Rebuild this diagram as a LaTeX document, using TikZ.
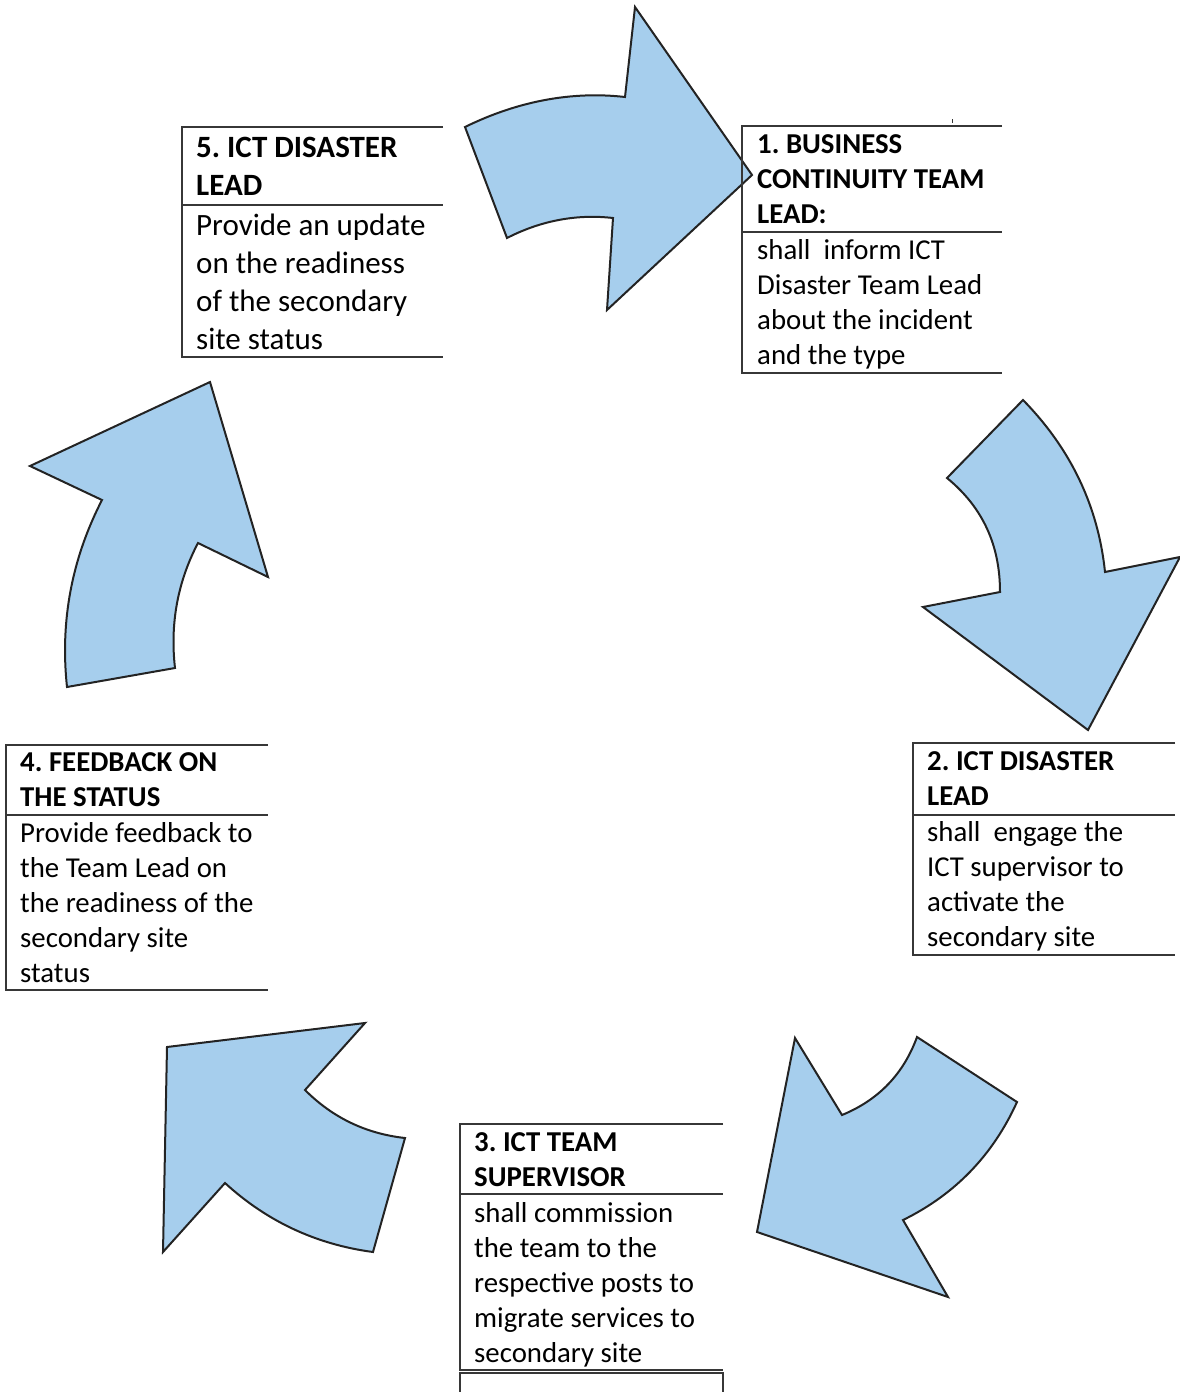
\documentclass[tikz,border=0pt]{standalone}
\usepackage{fontspec}
\setmainfont{Carlito}
\frenchspacing
\definecolor{arrowfill}{RGB}{166,206,237}
\definecolor{arrowline}{RGB}{35,35,35}
\definecolor{boxline}{RGB}{55,55,55}
\begin{document}
\begin{tikzpicture}[x=1pt,y=-1pt,
  bigarrow/.style={fill=arrowfill,draw=arrowline,line width=2pt,line join=miter},
  frame/.style={draw=boxline,line width=1.5pt},
  hdr/.style={anchor=north west,inner sep=0pt,align=left,font=\fontsize{28.8}{35}\selectfont\bfseries},
  bdy/.style={anchor=north west,inner sep=0pt,align=left,font=\fontsize{28.8}{35}\selectfont},
  hdrL/.style={anchor=north west,inner sep=0pt,align=left,font=\fontsize{31}{38}\selectfont\bfseries},
  bdyL/.style={anchor=north west,inner sep=0pt,align=left,font=\fontsize{31}{38}\selectfont}]
\useasboundingbox (0,0) rectangle (1180,1392);

% ---- arrows ----
% arrow 1 (top)
\draw[bigarrow] (465,127) .. controls (518,101) and (572,91) .. (625,97)
  -- (635,7) -- (752,175) -- (607,310) -- (613,218)
  .. controls (578,214) and (542,220) .. (507,238) -- cycle;
% arrow 2 (right)
\draw[bigarrow] (947,478) -- (1023,400)
  .. controls (1070,448) and (1098,505) .. (1105,572)
  -- (1180,557) -- (1088,730) -- (923,607) -- (1000,592)
  .. controls (1000,545.5) and (983,507.5) .. cycle;
% arrow 3 (lower right)
\draw[bigarrow] (917,1037) -- (1017,1102)
  .. controls (993,1155) and (955,1194.5) .. (903,1220)
  -- (948,1297) -- (757,1232) -- (795,1038) -- (842,1115)
  .. controls (878.5,1100) and (903.5,1074) .. cycle;
% arrow 4 (lower left)
\draw[bigarrow] (365,1023) -- (167,1047) -- (163,1252) -- (225,1183)
  .. controls (267,1221.5) and (316.5,1244.5) .. (373,1252)
  -- (405,1138)
  .. controls (366,1133.7) and (332.7,1117.7) .. (305,1090) -- cycle;
% arrow 5 (left)
\draw[bigarrow] (67,687) -- (175,668)
  .. controls (170,624) and (177.5,582) .. (198,543)
  -- (268,577) -- (210,382) -- (30,466) -- (102,500)
  .. controls (71.7,559) and (60,621) .. cycle;

% ---- box frames ----
% box 1
\draw[frame] (1002,126) -- (742,126) -- (742,373) -- (1002,373);
\draw[frame] (742,232) -- (1002,232);
\draw[boxline,line width=1pt] (952,119) -- (952,123);
% box 2
\draw[frame] (1175,743) -- (913,743) -- (913,955) -- (1175,955);
\draw[frame] (913,815) -- (1175,815);
% box 3
\draw[frame] (723,1124) -- (460,1124) -- (460,1370) -- (723,1370);
\draw[frame] (460,1194) -- (723,1194);
\draw[frame] (460,1396) -- (460,1373) -- (723,1373) -- (723,1396);
% box 4
\draw[frame] (268,745) -- (6,745) -- (6,990) -- (268,990);
\draw[frame] (6,815) -- (268,815);
% box 5
\draw[frame] (443,127) -- (182,127) -- (182,357) -- (443,357);
\draw[frame] (182,205) -- (443,205);

% ---- texts ----
\node[hdr] (h1) at (757,129) {\strut 1. BUSINESS\\CONTINUITY TEAM\\LEAD:};
\node[bdy] (b1) at (757,235) {\strut shall\ \ inform ICT\\Disaster Team Lead\\about the incident\\and the type};
\node[hdr] (h2) at (927,746) {\strut 2. ICT DISASTER\\LEAD};
\node[bdy] (b2) at (927,817) {\strut shall\ \ engage the\\ICT supervisor to\\activate the\\secondary site};
\node[hdr] (h3) at (474,1127) {\strut 3. ICT TEAM\\SUPERVISOR};
\node[bdy] (b3) at (474,1198) {\strut shall commission\\the team to the\\respective posts to\\migrate services to\\secondary site};
\node[hdr] (h4) at (20,747) {\strut 4. FEEDBACK ON\\THE STATUS};
\node[bdy] (b4) at (20,818) {\strut Provide feedback to\\the Team Lead on\\the readiness of the\\secondary site\\status};
\node[hdrL] (h5) at (196,131) {\strut 5. ICT DISASTER\\LEAD};
\node[bdyL] (b5) at (196,209) {\strut Provide an update\\on the readiness\\of the secondary\\site status};
\end{tikzpicture}
\end{document}
